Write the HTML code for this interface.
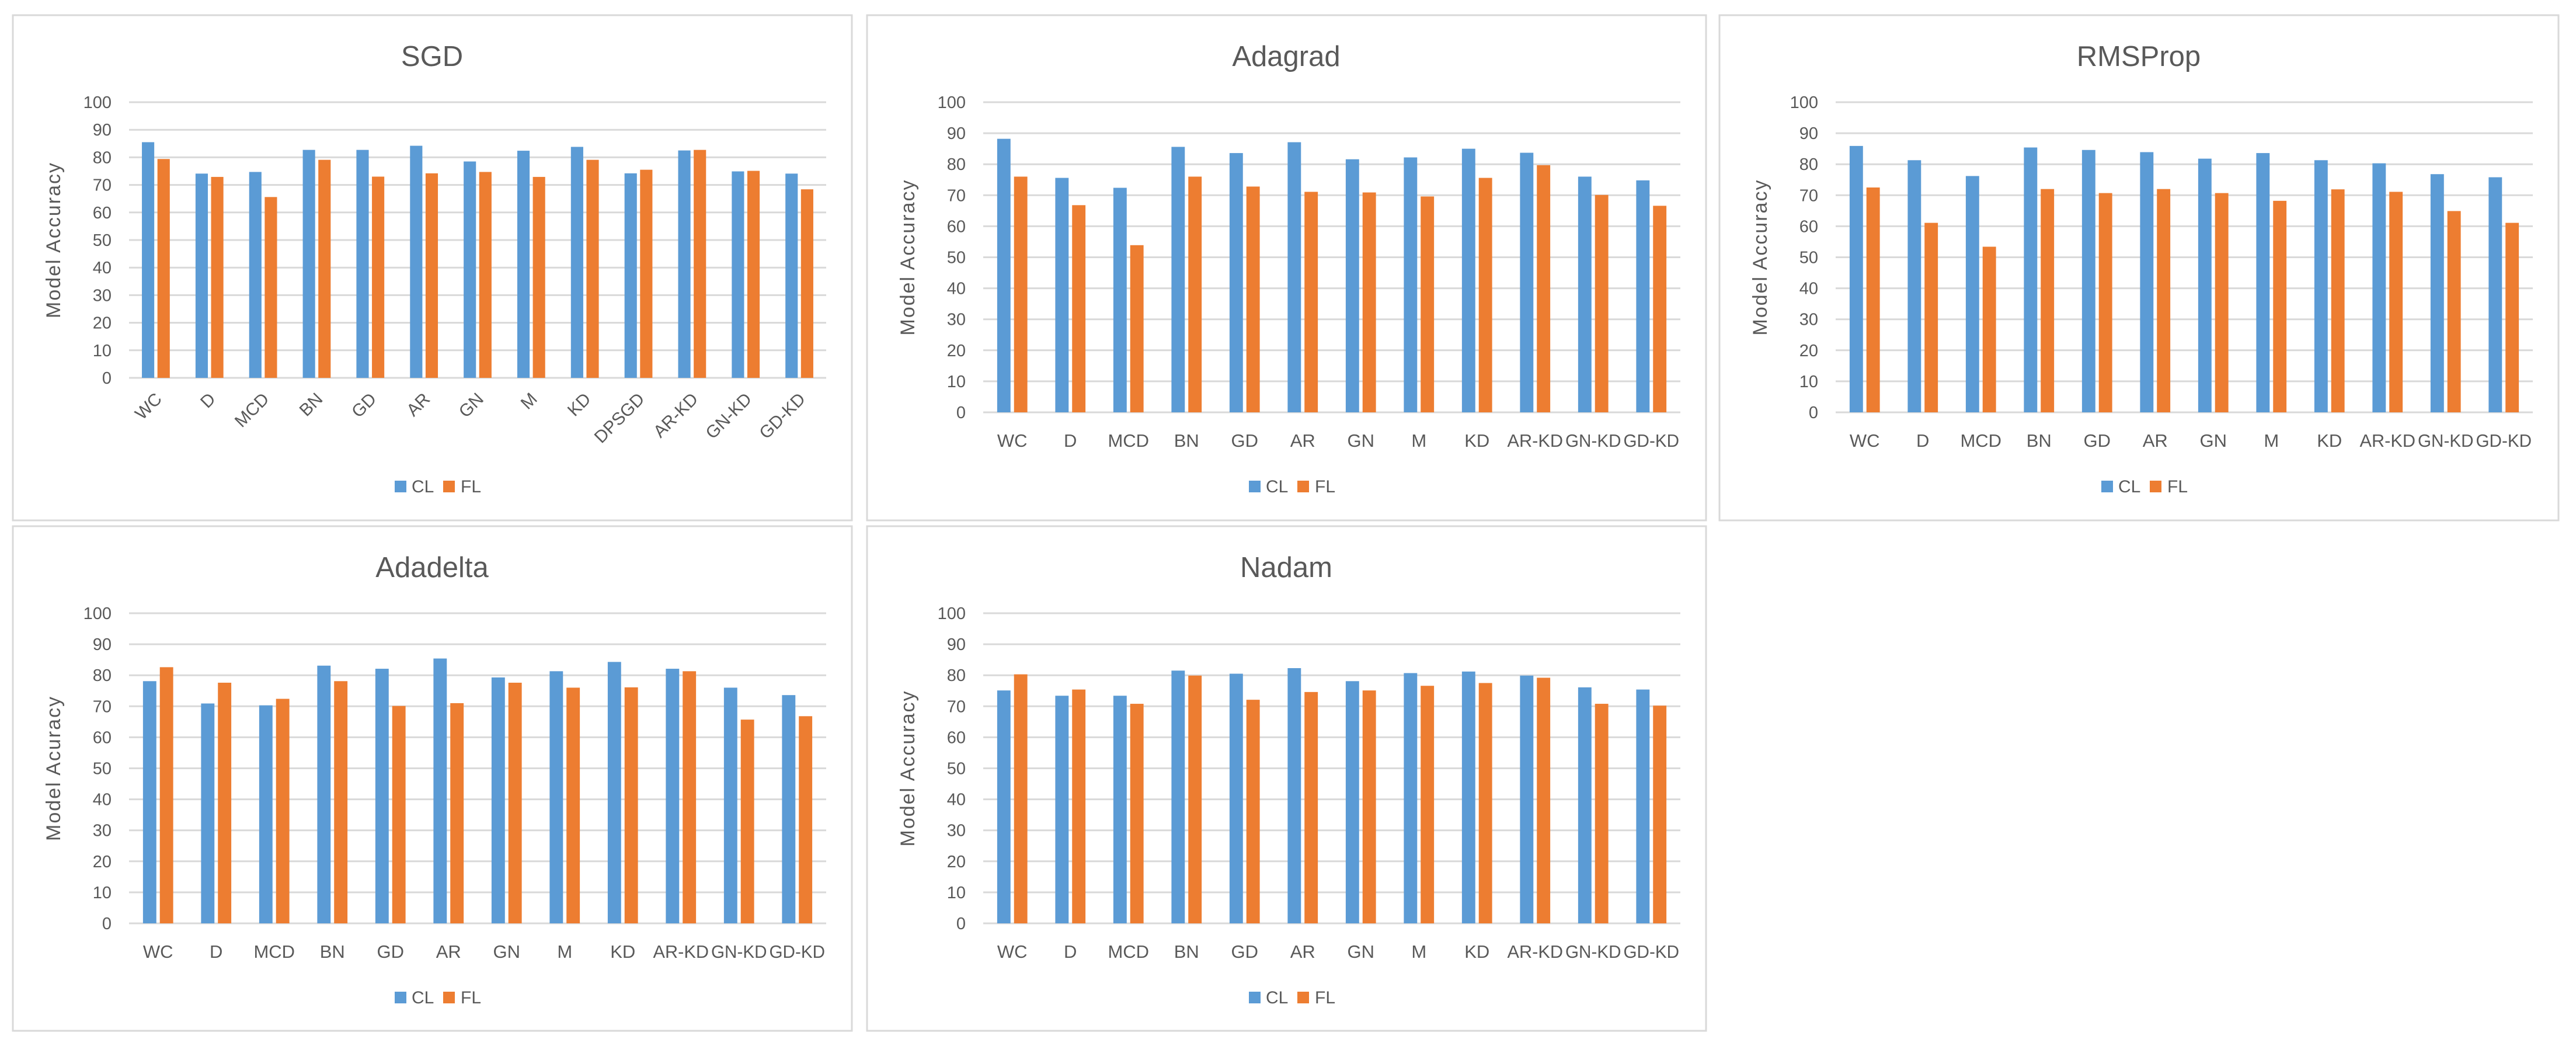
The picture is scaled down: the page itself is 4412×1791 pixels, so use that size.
<!DOCTYPE html>
<html><head><meta charset="utf-8"><style>
html,body{margin:0;padding:0;background:#fff;}
svg{display:block;font-family:"Liberation Sans",sans-serif;}
</style></head><body>
<svg id="c" width="4412" height="1791" viewBox="0 0 4412 1791" xmlns="http://www.w3.org/2000/svg"></svg>
<script>
const cats12 = ["WC","D","MCD","BN","GD","AR","GN","M","KD","AR-KD","GN-KD","GD-KD"];
const cats13 = ["WC","D","MCD","BN","GD","AR","GN","M","KD","DPSGD","AR-KD","GN-KD","GD-KD"];
const yTicks = [0,10,20,30,40,50,60,70,80,90,100];
const sgdCL = [85.5,74.1,74.7,82.7,82.7,84.2,78.5,82.4,83.8,74.2,82.5,74.9,74.1];
const sgdFL = [79.4,72.9,65.6,79.1,73.0,74.2,74.7,72.9,79.1,75.5,82.7,75.1,68.4];
const adagradCL = [88.2,75.6,72.4,85.6,83.6,87.1,81.6,82.2,85.0,83.7,76.0,74.8];
const adagradFL = [76.0,66.8,53.9,76.0,72.8,71.1,70.9,69.6,75.6,79.7,70.1,66.6];
const rmspropCL = [85.9,81.3,76.2,85.4,84.6,83.9,81.8,83.6,81.3,80.3,76.8,75.8];
const rmspropFL = [72.5,61.1,53.4,72.0,70.7,72.0,70.7,68.2,71.9,71.1,64.9,61.1];
const adadeltaCL = [78.1,70.9,70.3,83.1,82.1,85.4,79.3,81.3,84.3,82.1,76.0,73.6];
const adadeltaFL = [82.6,77.6,72.4,78.1,70.1,71.0,77.6,76.0,76.1,81.3,65.7,66.8];
const nadamCL = [75.1,73.4,73.4,81.5,80.5,82.3,78.1,80.7,81.2,79.9,76.1,75.4];
const nadamFL = [80.3,75.4,70.8,79.9,72.1,74.6,75.1,76.6,77.5,79.2,70.8,70.2];

const NS="http://www.w3.org/2000/svg";
const svg=document.getElementById('c');
function mk(tag,attrs,parent,text){const e=document.createElementNS(NS,tag);for(const k in attrs)e.setAttribute(k,attrs[k]);if(text!==undefined)e.textContent=text;parent.appendChild(e);return e;}

function panel(px,py,h,title,yTitle,cats,cl,fl,rotated,key){
  const g=mk('g',{},svg);
  
  
  const border=mk('rect',{x:px,y:py,width:1437,height:h,fill:'#fff',stroke:'#d9d9d9','stroke-width':3},g);
  
  
  const t=mk('text',{x:px+718,y:py+87,'text-anchor':'middle','font-size':49,fill:'#595959'},g,title);
  
  
  const left=px+199,right=px+1393;
  const top=py+149,bottom=rotated?py+621:py+680;
  const yS=v=>bottom-(bottom-top)*v/100;
  yTicks.forEach(v=>{
    const ln=mk('line',{x1:left,x2:right,y1:yS(v),y2:yS(v),stroke:'#d9d9d9','stroke-width':3},g);
    
    
    const tl=mk('text',{x:left-30,y:yS(v)+10,'text-anchor':'end','font-size':29,fill:'#595959'},g,String(v));
    
    
  });
  const cy=(top+bottom)/2,cx=px+72;
  const yt=mk('text',{x:cx,y:cy,'text-anchor':'middle','font-size':34,'letter-spacing':2,fill:'#595959',transform:`rotate(-90 ${cx} ${cy})`,'dominant-baseline':'middle'},g,yTitle);
  
  
  const gw=(right-left)/cats.length,bw=gw*0.23,off=gw*0.145;
  cats.forEach((c,i)=>{
    const gc=left+gw*(i+0.5);
    const b1=mk('rect',{x:gc-off-bw/2,y:yS(cl[i]),width:bw,height:bottom-yS(cl[i]),fill:'#5B9BD5'},g);
    
    
    const b2=mk('rect',{x:gc+off-bw/2,y:yS(fl[i]),width:bw,height:bottom-yS(fl[i]),fill:'#ED7D31'},g);
    
    
    let lb;
    if(rotated){
      const lx=gc+12,ly=bottom+38;
      lb=mk('text',{x:lx,y:ly,'text-anchor':'end','font-size':30,fill:'#595959',transform:`rotate(-45 ${lx} ${ly})`},g,c);
    }else{
      lb=mk('text',{x:gc,y:py+739,'text-anchor':'middle','font-size':31,fill:'#595959'},g,c);
      if(c.length>4){lb.setAttribute('textLength',gw-4);lb.setAttribute('lengthAdjust','spacingAndGlyphs');}
    }
    
    
  });
  const lgY=py+797;
  const s1=mk('rect',{x:px+654,y:lgY,width:20,height:20,fill:'#5B9BD5'},g);
  
  
  const l1=mk('text',{x:px+683,y:lgY+20,'font-size':30,fill:'#595959'},g,'CL');
  
  
  const s2=mk('rect',{x:px+737,y:lgY,width:20,height:20,fill:'#ED7D31'},g);
  
  
  const l2=mk('text',{x:px+767,y:lgY+20,'font-size':30,fill:'#595959'},g,'FL');
  
  
}
panel(22,26,865,'SGD','Model Accuracy',cats13,sgdCL,sgdFL,true,'sgd');
panel(1485,26,865,'Adagrad','Model Accuracy',cats12,adagradCL,adagradFL,false,'adagrad');
panel(2945,26,865,'RMSProp','Model Accuracy',cats12,rmspropCL,rmspropFL,false,'rmsprop');
panel(22,901,864,'Adadelta','Model Acuracy',cats12,adadeltaCL,adadeltaFL,false,'adadelta');
panel(1485,901,864,'Nadam','Model Accuracy',cats12,nadamCL,nadamFL,false,'nadam');
</script>
</body></html>
